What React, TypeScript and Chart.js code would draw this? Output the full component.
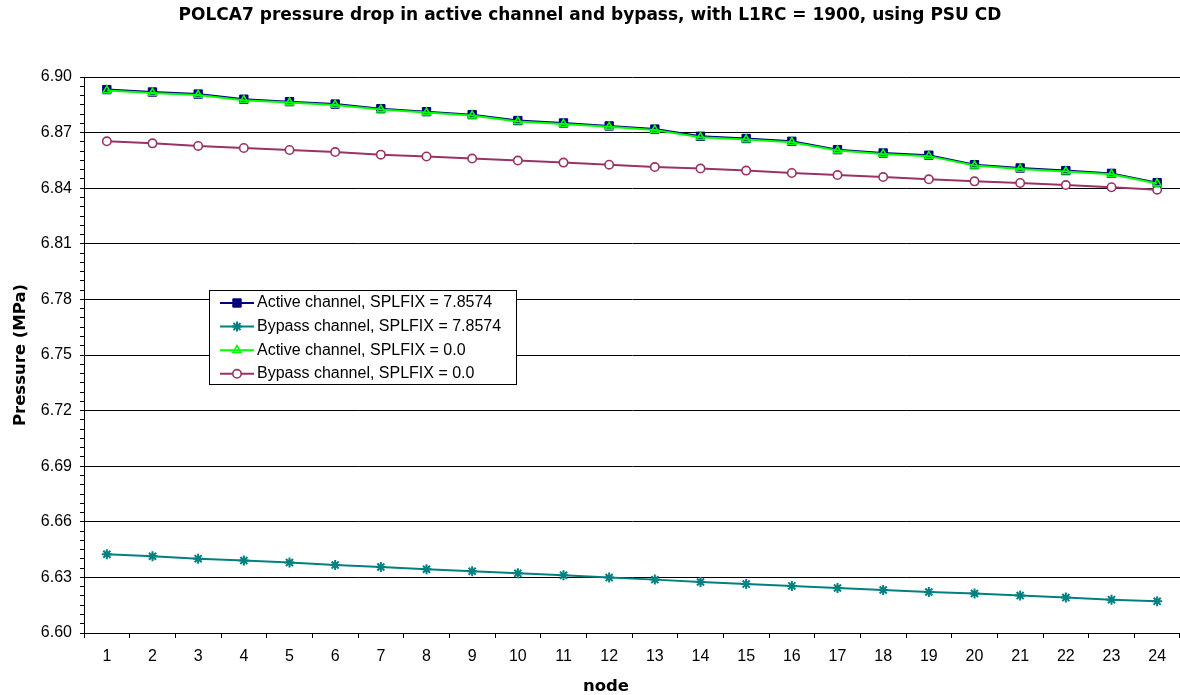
import React, { useEffect, useRef } from 'react';
import { Chart, registerables } from 'chart.js';
import { drawPoint } from 'chart.js/helpers';

Chart.register(...registerables);

// ---------- data ----------
const nodes = ['1', '2', '3', '4', '5', '6', '7', '8', '9', '10', '11', '12', '13', '14', '15', '16', '17', '18', '19', '20', '21', '22', '23', '24'];

const activeSplfix = [6.8932, 6.8919, 6.8908, 6.8880, 6.8867, 6.8854, 6.8829, 6.8813, 6.8797, 6.8765, 6.8752, 6.8736, 6.8719, 6.8680, 6.8668, 6.8653, 6.8608, 6.8590, 6.8578, 6.8527, 6.8509, 6.8495, 6.8480, 6.8430];
const bypassSplfix = [6.6425, 6.6414, 6.6401, 6.6391, 6.6380, 6.6367, 6.6356, 6.6344, 6.6333, 6.6322, 6.6311, 6.6299, 6.6288, 6.6275, 6.6264, 6.6254, 6.6243, 6.6232, 6.6221, 6.6213, 6.6202, 6.6191, 6.6180, 6.6171];
const activeZero = [6.8927, 6.8914, 6.8903, 6.8875, 6.8862, 6.8849, 6.8824, 6.8808, 6.8792, 6.8760, 6.8747, 6.8731, 6.8714, 6.8675, 6.8663, 6.8648, 6.8603, 6.8585, 6.8573, 6.8522, 6.8504, 6.8490, 6.8475, 6.8425];
const bypassZero = [6.8653, 6.8642, 6.8628, 6.8617, 6.8606, 6.8595, 6.8581, 6.8571, 6.8560, 6.8549, 6.8538, 6.8527, 6.8514, 6.8506, 6.8495, 6.8482, 6.8471, 6.8460, 6.8448, 6.8437, 6.8428, 6.8417, 6.8405, 6.8392];

const seriesLabels = [
  'Active channel, SPLFIX = 7.8574',
  'Bypass channel, SPLFIX = 7.8574',
  'Active channel, SPLFIX = 0.0',
  'Bypass channel, SPLFIX = 0.0',
];

const yMin = 6.6;
const yMax = 6.9;
const yMajorStep = 0.03;
const yMinorStep = 0.005;

const titleText = 'POLCA7 pressure drop in active channel and bypass, with L1RC = 1900, using PSU CD';
const yTitle = 'Pressure (MPa)';
const xTitle = 'node';

const SANS = '"Liberation Sans", Arial, sans-serif';
const BOLD = '"DejaVu Sans", sans-serif';

const isMajor = (v: number) => Math.round(v * 1000) % Math.round(yMajorStep * 1000) === 0;

const boxLegend = {
  id: 'boxLegend',
  afterDraw(chart: any) {
    const { ctx } = chart;
    const bx = 209.5, by = 290.5, bw = 307, bh = 94;
    ctx.save();
    ctx.fillStyle = '#ffffff';
    ctx.fillRect(bx, by, bw, bh);
    ctx.strokeStyle = '#000000';
    ctx.lineWidth = 1;
    ctx.strokeRect(bx, by, bw, bh);
    ctx.font = '16px ' + SANS;
    ctx.textBaseline = 'middle';
    ctx.textAlign = 'left';
    chart.data.datasets.forEach((ds: any, i: number) => {
      const cy = 303 + i * 23.6;
      ctx.strokeStyle = ds.borderColor;
      ctx.lineWidth = ds.borderWidth;
      ctx.beginPath();
      ctx.moveTo(220, cy);
      ctx.lineTo(254, cy);
      ctx.stroke();
      ctx.fillStyle = ds.pointBackgroundColor;
      ctx.strokeStyle = ds.pointBorderColor;
      ctx.lineWidth = ds.pointBorderWidth;
      drawPoint(ctx, { pointStyle: ds.pointStyle, radius: ds.pointRadius, borderWidth: ds.pointBorderWidth, rotation: 0 }, 237, cy);
      ctx.fillStyle = '#000000';
      ctx.fillText(ds.label, 257, cy);
    });
    ctx.restore();
  },
};

// x-axis title, placed under the axis (slightly left of centre as in the reference)
const xAxisTitle = {
  id: 'xAxisTitle',
  afterDraw(chart: any) {
    const { ctx, chartArea } = chart;
    const xs = chart.scales.x;
    ctx.save();
    ctx.font = 'bold 16.5px ' + BOLD;
    ctx.fillStyle = '#000';
    ctx.textAlign = 'center';
    ctx.textBaseline = 'middle';
    const cx = (chartArea.left + chartArea.right) / 2 - 26;
    ctx.fillText(xTitle, cx, xs.bottom - 8);
    ctx.restore();
  },
};

export default function App() {
  const ref = useRef<HTMLCanvasElement | null>(null);

  useEffect(() => {
    if (!ref.current) return;
    const chart = new Chart(ref.current, {
      type: 'line',
      data: {
        labels: nodes,
        datasets: [
          {
            label: seriesLabels[0],
            data: activeSplfix,
            borderColor: '#000080',
            borderWidth: 2,
            pointStyle: 'rect',
            pointRadius: 5.9,
            pointBackgroundColor: '#000080',
            pointBorderColor: '#000080',
            pointBorderWidth: 1,
            order: 1,
          },
          {
            label: seriesLabels[1],
            data: bypassSplfix,
            borderColor: '#008080',
            borderWidth: 2,
            pointStyle: 'star',
            pointRadius: 5,
            pointBackgroundColor: '#008080',
            pointBorderColor: '#008080',
            pointBorderWidth: 2,
            order: 2,
          },
          {
            label: seriesLabels[2],
            data: activeZero,
            borderColor: '#00ff00',
            borderWidth: 2,
            pointStyle: 'triangle',
            pointRadius: 4.6,
            pointBackgroundColor: 'rgba(0,0,0,0)',
            pointBorderColor: '#00ff00',
            pointBorderWidth: 1.6,
            order: 0,
          },
          {
            label: seriesLabels[3],
            data: bypassZero,
            borderColor: '#993366',
            borderWidth: 2,
            pointStyle: 'circle',
            pointRadius: 4.2,
            pointBackgroundColor: '#ffffff',
            pointBorderColor: '#993366',
            pointBorderWidth: 1.6,
            order: 3,
          },
        ],
      },
      options: {
        responsive: false,
        animation: false,
        devicePixelRatio: 1,
        layout: { autoPadding: false, padding: { left: 0, right: 0, top: 0, bottom: 0 } },
        plugins: {
          legend: { display: false },
          tooltip: { enabled: false },
          title: {
            display: true,
            text: titleText,
            color: '#000',
            font: { family: BOLD, size: 17, weight: 'bold', lineHeight: 1.2 },
            padding: { top: 5.8, bottom: 50.8 },
          },
        },
        scales: {
          x: {
            type: 'category',
            offset: true,
            afterFit: (s: any) => { s.height = 62; s.paddingRight = 0; s.paddingLeft = 0; },
            grid: { display: true, drawOnChartArea: false, drawTicks: true, tickLength: 5, tickColor: '#000', offset: true },
            border: { display: true, color: '#000', width: 1 },
            ticks: { color: '#000', font: { family: SANS, size: 16 }, padding: 9, autoSkip: false, maxRotation: 0 },
            title: { display: false },
          },
          y: {
            type: 'linear',
            min: yMin,
            max: yMax,
            afterFit: (s: any) => { s.width = 84; },
            grid: {
              color: (c: any) => (c.tick && isMajor(c.tick.value) ? '#000' : 'rgba(0,0,0,0)'),
              lineWidth: 1,
              drawTicks: true,
              tickLength: 4,
              tickColor: '#000',
            },
            border: { display: true, color: '#000', width: 1 },
            ticks: {
              stepSize: yMinorStep,
              autoSkip: false,
              color: '#000',
              padding: 8,
              font: { family: SANS, size: 16 },
              callback: (v: any) => (isMajor(Number(v)) ? Number(v).toFixed(2) : ''),
            },
            title: {
              display: true,
              text: yTitle,
              color: '#000',
              font: { family: BOLD, size: 16.5, weight: 'bold', lineHeight: 1.2 },
              padding: { top: 11.1, bottom: 0 },
            },
          },
        },
      },
      plugins: [boxLegend, xAxisTitle],
    });
    return () => chart.destroy();
  }, []);

  return (
    <div style={{ position: 'fixed', left: 0, top: 0, width: 1180, height: 695, background: '#fff' }}>
      <canvas ref={ref} width={1180} height={695} style={{ display: 'block' }} />
    </div>
  );
}
